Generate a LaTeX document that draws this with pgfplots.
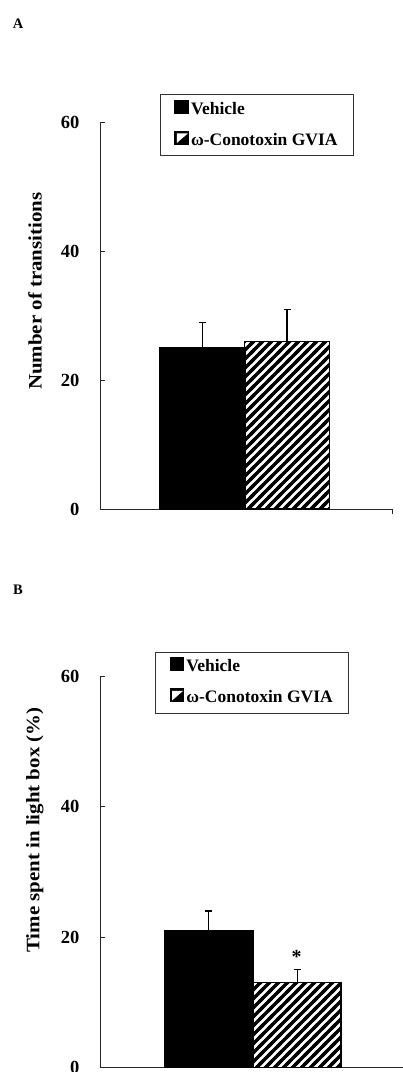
\documentclass[border=0pt]{standalone}
\usepackage{fontspec}
\setmainfont{Liberation Serif}
\usepackage{pgfplots}
\pgfplotsset{compat=1.18}
\usetikzlibrary{patterns}

\pgfdeclarepatternformonly{widediag}{\pgfqpoint{-3pt}{-3pt}}{\pgfqpoint{12pt}{12pt}}{\pgfqpoint{9pt}{9pt}}{%
  \pgfsetlinewidth{3.2pt}%
  \pgfpathmoveto{\pgfqpoint{-3pt}{-3pt}}%
  \pgfpathlineto{\pgfqpoint{12pt}{12pt}}%
  \pgfusepath{stroke}}

\newcommand\tickfont{\fontsize{18.5}{20}\selectfont\bfseries}
\newcommand\legfont{\fontsize{17.5}{20}\selectfont\bfseries}
\newcommand\labfont{\fontsize{19}{20}\selectfont\bfseries}

\pgfplotsset{
  panel/.style={
    scale only axis, enlargelimits=false,
    axis x line*=bottom, axis y line*=left,
    ymin=0, ymax=60, ytick={0,20,40,60},
    tick align=inside, major tick length=5pt,
    axis line style={line width=0.9pt, black!85},
    tick style={line width=0.9pt, black!85},
    yticklabel style={font=\tickfont, xshift=-17pt},
    /pgf/number format/assume math mode=true,
    every axis y label/.style={rotate=90, anchor=center, font=\labfont, xscale=1.1},
    ybar, bar shift=0pt,
    legend cell align=left,
    legend style={draw=black!80, line width=0.8pt, font=\legfont,
      anchor=north west, inner xsep=14pt, inner ysep=5pt, row sep=11pt,
      nodes={inner sep=2pt, text height=12.5pt, text depth=3.5pt}},
  },
  vehbar/.style={fill=black, draw=black, line width=1.6pt,
    legend image code/.code={\fill[black] (0pt,-3pt) rectangle (13pt,9pt);},
    error bars/.cd, y dir=plus, y explicit,
    error bar style={line width=1.3pt, black},
    error mark options={rotate=90, mark size=3.5pt, line width=1.3pt, black}},
  conobar/.style={draw=black, line width=1.6pt,
    pattern=widediag,
    legend image code/.code={\fill[black] (0pt,-3pt) rectangle (13pt,9pt);
      \fill[white] (2.5pt,6.5pt) -- (10.5pt,6.5pt) -- (2.5pt,-0.5pt) -- cycle;},
    error bars/.cd, y dir=plus, y explicit,
    error bar style={line width=1.3pt, black},
    error mark options={rotate=90, mark size=3.5pt, line width=1.3pt, black}},
}

\begin{document}
\begin{tikzpicture}
\path[use as bounding box] (0pt,0pt) rectangle (403pt,-1072pt);

\node[font=\fontsize{14.5}{14}\selectfont\bfseries] at (18pt,-24pt) {A};
\node[font=\fontsize{14.5}{14}\selectfont\bfseries] at (18pt,-590pt) {B};

% Panel A
\begin{axis}[panel,
  at={(100pt,-509pt)}, anchor=south west,
  width=292pt, height=386.3pt,
  xmin=0, xmax=292, xtick={292}, xticklabels={},
  bar width=85pt,
  ylabel={Number of transitions},
  ylabel style={at={(axis description cs:-0.2226,0.564)}},
  legend style={at={(axis description cs:0.2055,1.0735)}},
]
\addplot[vehbar] coordinates {(102.5,25) +- (0,4)};
\addlegendentry{Vehicle}
\addplot[conobar] coordinates {(187,26) +- (0,5)};
\addlegendentry{ω-Conotoxin GVIA}
\end{axis}

% Panel B
\begin{axis}[panel,
  at={(100pt,-1067.3pt)}, anchor=south west,
  width=305pt, height=390.6pt,
  xmin=0, xmax=305, xtick=\empty,
  bar width=88pt,
  ylabel={Time spent in light box (\%)},
  ylabel style={at={(axis description cs:-0.2131,0.6075)}},
  legend style={at={(axis description cs:0.1813,1.064)}},
]
\addplot[vehbar] coordinates {(108.8,21) +- (0,3)};
\addlegendentry{Vehicle}
\addplot[conobar] coordinates {(197.2,13) +- (0,2)};
\addlegendentry{ω-Conotoxin GVIA}
\node[font=\fontsize{20}{20}\selectfont\bfseries, yshift=-2.5pt] at (axis cs:196.7,17.3) {*};
\end{axis}
\end{tikzpicture}
\end{document}
